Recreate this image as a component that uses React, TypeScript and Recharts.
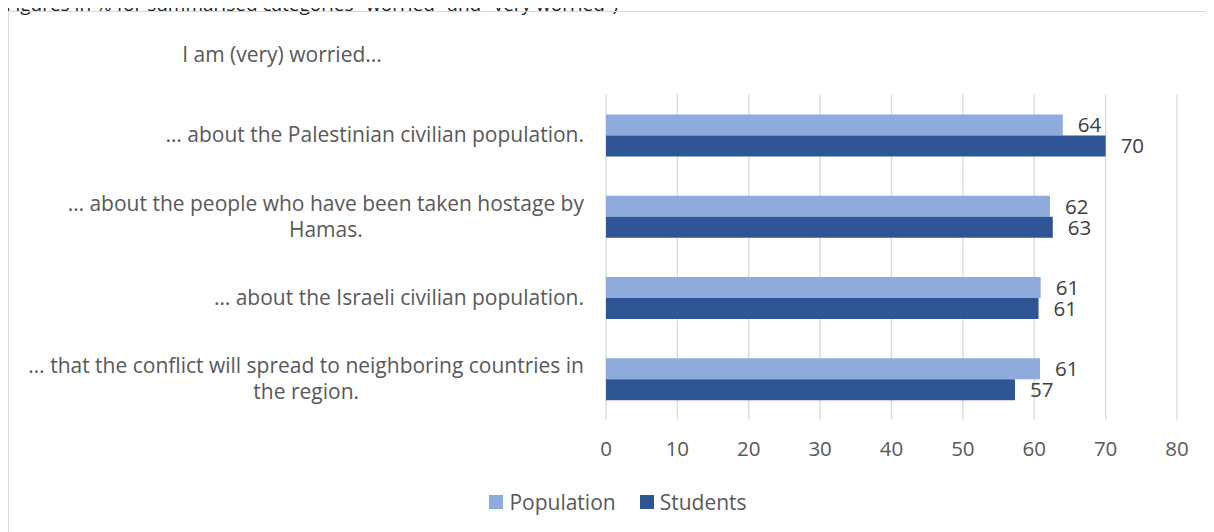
import React from "react";
import { BarChart, Bar, XAxis, YAxis, CartesianGrid, LabelList, Legend } from "recharts";

const categories: string[][] = [
  ["… about the Palestinian civilian population."],
  ["… about the people who have been taken hostage by", "Hamas."],
  ["… about the Israeli civilian population."],
  ["… that the conflict will spread to neighboring countries in", "the region."],
];
const population = [64, 62.2, 60.9, 60.8];
const students = [70, 62.6, 60.6, 57.3];
const xTicks = [0, 10, 20, 30, 40, 50, 60, 70, 80];

const FONT = "'Open Sans', sans-serif";
const FS = 21;
const NFS = 20.5;
const GREY = "#595959";

const data = categories.map((lines, i) => ({
  name: lines.join(" "),
  lines,
  Population: population[i],
  Students: students[i],
}));

let ctx: CanvasRenderingContext2D | null = null;
function measure(t: string): number {
  if (!ctx) {
    const c = document.createElement("canvas");
    ctx = c.getContext("2d");
  }
  if (!ctx) return t.length * FS * 0.5;
  ctx.font = `${FS}px ${FONT}`;
  return ctx.measureText(t).width;
}

const CatTick = (props: any) => {
  const { x, y, payload } = props;
  const item = data.find((d) => d.name === payload.value);
  const lines = item ? item.lines : [String(payload.value)];
  const w = Math.max(...lines.map(measure));
  const cx = x - w / 2;
  const lh = 26;
  const y0 = y - ((lines.length - 1) * lh) / 2;
  return (
    <g>
      {lines.map((l, i) => (
        <text key={i} x={cx} y={y0 + i * lh} dy="0.35em" textAnchor="middle" fill={GREY} fontSize={FS} fontFamily={FONT}>
          {l}
        </text>
      ))}
    </g>
  );
};

const LegendContent = (props: any) => {
  const { payload } = props;
  return (
    <div style={{ display: "flex", justifyContent: "center", alignItems: "center", fontFamily: FONT, fontSize: FS, color: GREY }}>
      {payload.map((p: any, i: number) => (
        <div key={i} style={{ display: "flex", alignItems: "center", marginLeft: i ? 24 : 0 }}>
          <span style={{ width: 14, height: 14, background: p.color, display: "inline-block", marginRight: 6 }} />
          <span>{p.value}</span>
        </div>
      ))}
    </div>
  );
};

export default function App() {
  return (
    <div style={{ position: "relative", width: 1214, height: 532, marginTop: -8, marginLeft: -8, overflow: "hidden", background: "#fff" }}>
      <div style={{ position: "absolute", left: 0, top: -6, lineHeight: "20px", fontFamily: FONT, fontSize: 19, color: "#222", whiteSpace: "nowrap" }}>
        (Figures in % for summarised categories "worried" and "very worried")
      </div>
      <div style={{ position: "absolute", left: 8, top: 11, width: 1220, height: 560, border: "1px solid #d9d9d9" }} />
      <div style={{ position: "absolute", left: 0, top: 40, width: 564, textAlign: "center", fontFamily: FONT, fontSize: FS, color: GREY }}>
        I am (very) worried...
      </div>
      <div style={{ position: "absolute", left: 0, top: 0 }}>
        <BarChart
          width={1214}
          height={532}
          layout="vertical"
          data={data}
          margin={{ top: 94.5, right: 37, bottom: 72.5, left: 0 }}
          barGap={0}
          barSize={21}
        >
          <CartesianGrid horizontal={false} stroke="#d9d9d9" strokeWidth={1.3} />
          <XAxis
            type="number"
            domain={[0, 80]}
            ticks={xTicks}
            axisLine={false}
            tickLine={false}
            tickMargin={16}
            height={40}
            tick={{ fill: GREY, fontSize: NFS, fontFamily: FONT }}
          />
          <YAxis
            type="category"
            dataKey="name"
            width={606}
            axisLine={false}
            tickLine={false}
            tickMargin={16}
            tick={<CatTick />}
            interval={0}
          />
          <Legend
            verticalAlign="middle"
            layout="horizontal"
            wrapperStyle={{ top: 488, left: 22, width: 1192 }}
            content={<LegendContent />}
          />
          <Bar dataKey="Population" fill="#8faadc" isAnimationActive={false}>
            <LabelList dataKey="Population" position="right" offset={15} formatter={(v: any) => Math.round(Number(v))} fill="#404040" fontSize={NFS} fontFamily={FONT} />
          </Bar>
          <Bar dataKey="Students" fill="#2f5597" isAnimationActive={false}>
            <LabelList dataKey="Students" position="right" offset={15} formatter={(v: any) => Math.round(Number(v))} fill="#404040" fontSize={NFS} fontFamily={FONT} />
          </Bar>
        </BarChart>
      </div>
    </div>
  );
}
